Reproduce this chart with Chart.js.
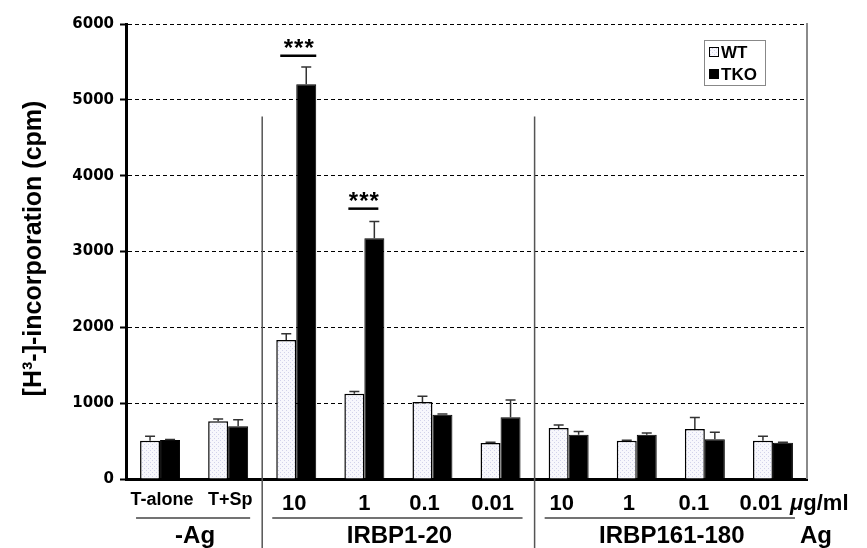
<!DOCTYPE html>
<html>
<head>
<meta charset="utf-8">
<script src="https://cdn.jsdelivr.net/npm/chart.js@4/dist/chart.umd.min.js"></script>
<style>
html,body{margin:0;padding:0;background:#fff;}
#c{display:block;}
</style>
</head>
<body>
<canvas id="c" width="867" height="548"></canvas>
<script>
// ---- data ----
const categories = ['T-alone', 'T+Sp', '10', '1', '0.1', '0.01', '10', '1', '0.1', '0.01'];
const wtValues   = [505, 761, 1834, 1125, 1016, 475, 673, 505, 660, 505];
const wtErrors   = [60, 30, 80, 30, 75, 10, 40, 6, 150, 58];
const tkoValues  = [514, 695, 5207, 3175, 848, 814, 585, 585, 524, 479];
const tkoErrors  = [8, 87, 225, 220, 10, 228, 40, 22, 92, 6];
const seriesNames = ['WT', 'TKO'];
const yTicks = [0, 1000, 2000, 3000, 4000, 5000, 6000];
const groupNames = ['-Ag', 'IRBP1-20', 'IRBP161-180'];
const groupFirst = [0, 2, 6];
const groupLast  = [1, 5, 9];
const sigCategories = [2, 3];
const sigLevels = [5582, 3565];
const sigText = '***';
const yTitle = '[H\u00B3-]-incorporation (cpm)';
const unitText = 'g/ml';
const agText = 'Ag';

const canvas = document.getElementById('c');
const ctx = canvas.getContext('2d');

function makePattern() {
  const p = document.createElement('canvas');
  p.width = 4; p.height = 4;
  const g = p.getContext('2d');
  g.fillStyle = '#f7f7fc';
  g.fillRect(0, 0, 4, 4);
  g.fillStyle = '#d2d2ea';
  g.fillRect(0, 0, 1, 1);
  g.fillRect(2, 2, 1, 1);
  return ctx.createPattern(p, 'repeat');
}
const wtPattern = makePattern();

const SANS = '"Liberation Sans", Arial, Helvetica, sans-serif';
// horizontal nudge of the category labels (layout only)
const labelNudge = [0, 0, -2, 0, -8, -8, -7, -8, -11, -12];

const bgPlugin = {
  id: 'bg',
  beforeDraw(chart) {
    const c = chart.ctx;
    c.save();
    c.fillStyle = '#fff';
    c.fillRect(0, 0, chart.width, chart.height);
    c.restore();
  }
};

const errorPlugin = {
  id: 'errors',
  afterDatasetsDraw(chart) {
    const c = chart.ctx;
    const y = chart.scales.y;
    const errs = [wtErrors, tkoErrors];
    c.save();
    c.strokeStyle = '#333';
    c.lineWidth = 1.5;
    chart.data.datasets.forEach((ds, di) => {
      const meta = chart.getDatasetMeta(di);
      meta.data.forEach((el, i) => {
        const v = ds.data[i];
        const top = y.getPixelForValue(v + errs[di][i]);
        const base = y.getPixelForValue(v);
        c.beginPath();
        c.moveTo(el.x, base);
        c.lineTo(el.x, top);
        c.moveTo(el.x - 5, top);
        c.lineTo(el.x + 5, top);
        c.stroke();
      });
    });
    c.restore();
  }
};

const decorPlugin = {
  id: 'decor',
  afterDraw(chart) {
    const c = chart.ctx;
    const x = chart.scales.x;
    const y = chart.scales.y;
    const area = chart.chartArea;
    c.save();

    // right border of plot
    c.strokeStyle = '#8a8a8a';
    c.lineWidth = 2;
    c.beginPath();
    c.moveTo(area.right, area.top - 1);
    c.lineTo(area.right, area.bottom);
    c.stroke();

    // vertical separators between groups
    c.strokeStyle = '#555';
    c.lineWidth = 1.5;
    for (let g = 1; g < groupFirst.length; g++) {
      const sx = (x.getPixelForValue(groupLast[g - 1]) + x.getPixelForValue(groupFirst[g])) / 2;
      c.beginPath();
      c.moveTo(sx, y.getPixelForValue(4780));
      c.lineTo(sx, chart.height);
      c.stroke();
    }

    // category labels
    c.fillStyle = '#000';
    c.textAlign = 'center';
    c.textBaseline = 'alphabetic';
    categories.forEach((lab, i) => {
      const cx = x.getPixelForValue(i) + labelNudge[i];
      if (i < 2) {
        c.font = 'bold 18px ' + SANS;
        c.fillText(lab, cx + 2, 505);
      } else {
        c.font = 'bold 22px ' + SANS;
        c.fillText(lab, cx, 510);
      }
    });

    // unit label
    c.textAlign = 'left';
    c.font = 'italic bold 22px ' + SANS;
    c.fillText('\u03BC', 790, 510);
    const mw = c.measureText('\u03BC').width;
    c.font = 'bold 22px ' + SANS;
    c.fillText(unitText, 790 + mw, 510);

    // group underline + names
    c.strokeStyle = '#444';
    c.lineWidth = 1.5;
    groupNames.forEach((name, g) => {
      const x1 = x.getPixelForValue(groupFirst[g]) - 24;
      const x2 = x.getPixelForValue(groupLast[g]) + 22;
      c.beginPath();
      c.moveTo(x1, 518);
      c.lineTo(x2, 518);
      c.stroke();
      c.textAlign = 'center';
      c.font = 'bold 24px ' + SANS;
      c.fillText(name, (x1 + x2) / 2 + 2, 543);
    });
    c.textAlign = 'left';
    c.font = 'bold 24px ' + SANS;
    c.fillText(agText, 800, 543);

    // significance marks
    c.strokeStyle = '#000';
    c.lineWidth = 2.5;
    sigCategories.forEach((ci, k) => {
      const cx = x.getPixelForValue(ci);
      const ly = y.getPixelForValue(sigLevels[k]);
      const half = k === 0 ? 18 : 15;
      const ox = k === 0 ? 2 : -1;
      c.beginPath();
      c.moveTo(cx + ox - half, ly);
      c.lineTo(cx + ox + half, ly);
      c.stroke();
      c.textAlign = 'center';
      c.font = 'bold 24px ' + SANS;
      c.letterSpacing = '1px';
      c.fillText(sigText, cx + ox + 1, ly + 0);
      c.letterSpacing = '0px';
    });

    // y title
    c.save();
    c.translate(41, (area.top + area.bottom) / 2 - 3);
    c.rotate(-Math.PI / 2);
    c.textAlign = 'center';
    c.textBaseline = 'alphabetic';
    c.font = 'bold 25px ' + SANS;
    c.fillStyle = '#000';
    c.fillText(yTitle, 0, 0);
    c.restore();

    // legend
    const lx = 704, ly = 40, lw = 61, lh = 45;
    c.fillStyle = '#fff';
    c.fillRect(lx, ly, lw, lh);
    c.strokeStyle = '#888';
    c.lineWidth = 1;
    c.strokeRect(lx + 0.5, ly + 0.5, lw, lh);
    const fills = [wtPattern, '#000'];
    seriesNames.forEach((name, k) => {
      const my = ly + 7 + k * 22;
      c.fillStyle = fills[k];
      c.fillRect(709, my, 10, 10);
      c.strokeStyle = '#000';
      c.lineWidth = 1;
      c.strokeRect(709.5, my + 0.5, 9, 9);
      c.fillStyle = '#000';
      c.textAlign = 'left';
      c.font = 'bold 17px ' + SANS;
      c.fillText(name, 721, my + 11);
    });

    c.restore();
  }
};

new Chart(ctx, {
  type: 'bar',
  data: {
    labels: categories,
    datasets: [
      { label: seriesNames[0], data: wtValues, backgroundColor: wtPattern, borderColor: '#000', borderWidth: 1.5 },
      { label: seriesNames[1], data: tkoValues, backgroundColor: '#000', borderColor: '#000', borderWidth: 1 }
    ]
  },
  options: {
    responsive: false,
    animation: false,
    devicePixelRatio: 1,
    layout: { padding: { left: 0, right: 60, top: 24, bottom: 0 } },
    datasets: { bar: { categoryPercentage: 0.587, barPercentage: 1.0 } },
    plugins: { legend: { display: false }, tooltip: { enabled: false }, title: { display: false } },
    scales: {
      x: {
        grid: { display: false },
        ticks: { display: false },
        border: { display: true, color: '#000', width: 3 },
        afterFit(s) { s.height = 69; }
      },
      y: {
        min: 0, max: 6000,
        afterBuildTicks(s) { s.ticks = yTicks.map(v => ({ value: v })); },
        ticks: {
          callback: v => String(v),
          color: '#000',
          font: { family: '"DejaVu Sans", sans-serif', weight: 'bold', size: 15 },
          padding: 6
        },
        grid: {
          color: c => (c.tick && c.tick.value === 0) ? 'rgba(0,0,0,0)' : '#000',
          lineWidth: 1,
          tickColor: '#000',
          tickLength: 6,
          tickWidth: 2
        },
        border: { display: true, color: '#000', width: 3, dash: [4, 3] },
        afterFit(s) { s.width = 126; }
      }
    }
  },
  plugins: [bgPlugin, errorPlugin, decorPlugin]
});
</script>
</body>
</html>
